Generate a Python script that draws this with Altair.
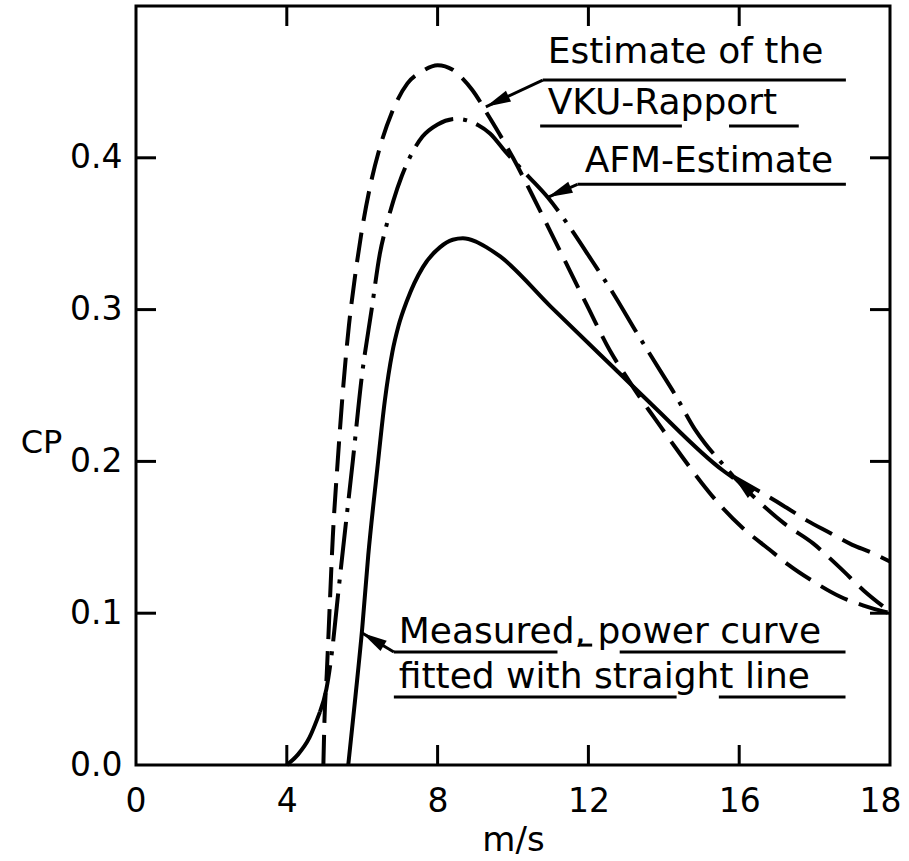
import math
import altair as alt
import pandas as pd

# ---------------- data ----------------
# x: wind speed (m/s) on an evenly spaced axis whose last tick is printed "18"
# y: power coefficient CP
vku_x = [4.97, 5.0, 5.06, 5.13, 5.22, 5.35, 5.5, 5.65, 5.8, 5.97, 6.2, 6.47, 6.79, 7.2,
         7.59, 8.0, 8.4, 8.67, 8.91, 9.39, 10.0, 10.5, 11.0, 11.5, 12.0, 12.57, 13.0, 13.37, 13.77,
         14.4, 15.0, 15.5, 16.1, 16.8, 17.3, 17.96, 18.67, 19.3, 20.0]
vku_y = [0.0, 0.03, 0.06, 0.10, 0.15, 0.20, 0.25, 0.29, 0.32, 0.349, 0.38, 0.407, 0.430, 0.449,
         0.457, 0.461, 0.458, 0.452, 0.445, 0.426, 0.400, 0.376, 0.351, 0.326, 0.301, 0.273, 0.256,
         0.242, 0.228, 0.206, 0.186, 0.171, 0.156, 0.142, 0.132, 0.121, 0.111, 0.105, 0.100]

afm_foot_x = [4.0, 4.3, 4.6, 4.88]
afm_foot_y = [0.0, 0.007, 0.018, 0.035]
afm_x = [4.88, 5.05, 5.2, 5.35, 5.49, 5.75, 5.99, 6.25, 6.47, 6.65, 6.83, 7.05, 7.34, 7.6, 8.0,
         8.5, 9.07, 9.39, 9.8, 10.4, 10.92, 11.5, 12.1, 12.7, 13.3, 13.9, 14.3, 14.83, 15.09,
         15.5, 15.85]
afm_y = [0.035, 0.05, 0.075, 0.11, 0.142, 0.20, 0.256, 0.30, 0.337, 0.356, 0.372, 0.388, 0.404,
         0.414, 0.422, 0.4256, 0.4216, 0.416, 0.404, 0.388, 0.374, 0.3545, 0.332, 0.309, 0.284,
         0.26, 0.244, 0.221, 0.212, 0.20, 0.19]

meas_x = [5.63, 5.82, 6.0, 6.16, 6.4, 6.6, 6.8, 6.96, 7.19, 7.61, 8.06, 8.4, 8.67, 9.0, 9.3, 9.66,
          11.0, 12.7, 13.7, 15.57, 15.85]
meas_y = [0.0, 0.045, 0.09, 0.138, 0.195, 0.24, 0.272, 0.289, 0.306, 0.328, 0.341, 0.346, 0.347,
          0.345, 0.341, 0.335, 0.302, 0.261, 0.237, 0.194, 0.189]

tail_upper_x = [15.85, 16.55, 17.16, 17.8, 18.4, 19.0, 19.5, 20.0]
tail_upper_y = [0.19, 0.18, 0.171, 0.161, 0.153, 0.145, 0.140, 0.134]
tail_lower_x = [15.85, 16.5, 17.2, 17.96, 18.67, 19.3, 20.0]
tail_lower_y = [0.19, 0.174, 0.159, 0.146, 0.130, 0.115, 0.101]

x_tick_values = [0, 4, 8, 12, 16, 20]
x_tick_text = ["0", "4", "8", "12", "16", "18"]
y_tick_values = [0.0, 0.1, 0.2, 0.3, 0.4]
inner_x_ticks = [4, 8, 12, 16]
inner_y_ticks = [0.1, 0.2, 0.3, 0.4]

label_text = ["Estimate of the", "VKU-Rapport", "AFM-Estimate",
              "Measured, power curve", "fitted with straight line"]
label_x = [10.92, 10.92, 11.9, 6.97, 6.97]
label_y = [0.4625, 0.4289, 0.3908, 0.0804, 0.0507]

underline_x = [10.79, 10.72, 15.73, 11.71, 6.84, 11.78, 12.83, 6.84, 15.46]
underline_x2 = [18.83, 14.48, 17.58, 18.83, 11.18, 12.10, 18.82, 14.34, 18.82]
underline_y = [0.4512, 0.4209, 0.4209, 0.3825, 0.0744, 0.0790, 0.0744, 0.0448, 0.0448]

leader_tail_x = [10.79, 11.71, 6.84]
leader_tail_y = [0.4512, 0.3825, 0.0744]
leader_tip_x = [9.28, 10.92, 6.0]
leader_tip_y = [0.4336, 0.374, 0.087]

curve_arrow_tail_x = [16.85]
curve_arrow_tail_y = [0.167]
curve_arrow_tip_x = [15.85]
curve_arrow_tip_y = [0.19]

# ---------------- layout / style ----------------
W, H = 754, 759
X_MAX, Y_MAX = 20, 0.5
FONT = "DejaVu Sans"
LW = 4

xs = alt.Scale(domain=[0, X_MAX], nice=False, zero=False)
ys = alt.Scale(domain=[0, Y_MAX], nice=False, zero=False)

label_expr = " : ".join(
    f"datum.value == {v} ? '{t}'" for v, t in zip(x_tick_values, x_tick_text)
) + " : ''"

x_axis = alt.Axis(values=x_tick_values, labelExpr=label_expr, ticks=False, tickSize=0, domain=False,
                  grid=False, labelFlush=True, labelFlushOffset=11, labelPadding=20,
                  labelFontSize=33, labelFont=FONT,
                  labelColor="black", title="m/s", titleFont=FONT, titleFontSize=34,
                  titleFontWeight="normal", titleColor="black", titleY=85,
                  titleBaseline="alphabetic", labelOverlap=False)
y_axis = alt.Axis(values=y_tick_values, format=".1f", ticks=False, tickSize=0, domain=False,
                  grid=False, labelFlush=False, labelPadding=14, labelFontSize=33, labelFont=FONT,
                  labelColor="black", title="CP", titleFont=FONT, titleFontSize=32,
                  titleFontWeight="normal", titleColor="black", titleAngle=0, titleX=-95,
                  titleY=436, titleAlign="center", titleBaseline="middle", labelOverlap=False)

X = alt.X("x:Q", scale=xs, axis=x_axis)
Y = alt.Y("y:Q", scale=ys, axis=y_axis)


def line_layer(xv, yv, dash=None):
    df = pd.DataFrame({"x": xv, "y": yv, "o": list(range(len(xv)))})
    kw = dict(color="black", strokeWidth=LW, interpolate="monotone", strokeCap="butt")
    if dash:
        kw["strokeDash"] = dash
    return alt.Chart(df).mark_line(**kw).encode(x=X, y=Y, order="o:Q")


vku = line_layer(vku_x, vku_y, [30, 12])
afm_foot = line_layer(afm_foot_x, afm_foot_y)
afm = line_layer(afm_x, afm_y, [48, 10, 4, 10])
meas = line_layer(meas_x, meas_y)
tail_u = line_layer(tail_upper_x, tail_upper_y, [30, 12])
tail_l = line_layer(tail_lower_x, tail_lower_y, [30, 12])

# inward tick marks on all four sides
ydf = pd.DataFrame({"y": inner_y_ticks})
xdf = pd.DataFrame({"x": inner_x_ticks})
tick_kw = dict(color="black", strokeWidth=3)
t_left = alt.Chart(ydf).mark_rule(**tick_kw).encode(y=Y, x=alt.value(0), x2=alt.value(20))
t_right = alt.Chart(ydf).mark_rule(**tick_kw).encode(y=Y, x=alt.value(W - 20), x2=alt.value(W))
t_bottom = alt.Chart(xdf).mark_rule(**tick_kw).encode(x=X, y=alt.value(H), y2=alt.value(H - 20))
t_top = alt.Chart(xdf).mark_rule(**tick_kw).encode(x=X, y=alt.value(0), y2=alt.value(20))

# annotation texts
tdf = pd.DataFrame({"x": label_x, "y": label_y, "t": label_text})
texts = alt.Chart(tdf).mark_text(align="left", baseline="alphabetic", font=FONT, fontSize=36,
                                 color="black").encode(x=X, y=Y, text="t:N")

udf = pd.DataFrame({"x": underline_x, "x2": underline_x2, "y": underline_y})
underlines = alt.Chart(udf).mark_rule(color="black", strokeWidth=3).encode(x=X, x2="x2:Q", y=Y)

ldf = pd.DataFrame({"x": leader_tail_x, "y": leader_tail_y, "x2": leader_tip_x, "y2": leader_tip_y})
leaders = alt.Chart(ldf).mark_rule(color="black", strokeWidth=3).encode(x=X, y=Y, x2="x2:Q", y2="y2:Q")

sx, sy = W / X_MAX, H / Y_MAX
a_tail_x = leader_tail_x + curve_arrow_tail_x
a_tail_y = leader_tail_y + curve_arrow_tail_y
a_tip_x = leader_tip_x + curve_arrow_tip_x
a_tip_y = leader_tip_y + curve_arrow_tip_y
angles = []
for tx, ty, px, py in zip(a_tail_x, a_tail_y, a_tip_x, a_tip_y):
    dx = (px - tx) * sx
    dy = -(py - ty) * sy
    angles.append(math.degrees(math.atan2(dx, -dy)) % 360)
adf = pd.DataFrame({"x": a_tip_x, "y": a_tip_y, "ang": angles})
heads = alt.Chart(adf).mark_point(shape="M0,0L0.24,1L-0.24,1Z", filled=True, size=2500,
                                  color="black", opacity=1, strokeWidth=0).encode(
    x=X, y=Y, angle=alt.Angle("ang:Q", scale=None))

chart = alt.layer(
    t_left, t_right, t_bottom, t_top,
    vku, afm_foot, afm, meas, tail_u, tail_l,
    underlines, leaders, heads, texts,
).properties(
    width=W, height=H,
    padding={"left": 136, "top": 6, "right": 19, "bottom": 96},
    autosize=alt.AutoSizeParams(type="none"),
    background="white",
).configure_view(stroke="black", strokeWidth=3)

chart.save("out.html", embed_options={"renderer": "svg", "actions": False})
